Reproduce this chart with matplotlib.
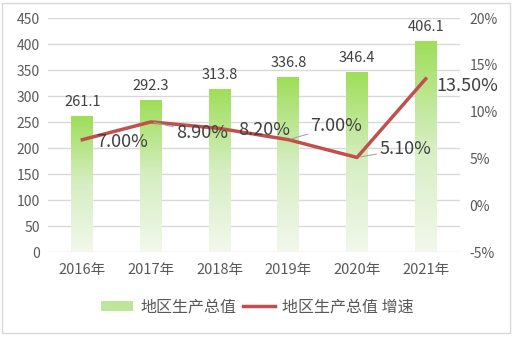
import numpy as np
import matplotlib
matplotlib.use("Agg")
import matplotlib.pyplot as plt
from matplotlib.colors import LinearSegmentedColormap
from matplotlib.patches import Rectangle, Patch
from matplotlib.lines import Line2D

plt.rcParams['font.family'] = ['Noto Sans CJK SC', 'DejaVu Sans']

years = ["2016年", "2017年", "2018年", "2019年", "2020年", "2021年"]
gdp = [261.1, 292.3, 313.8, 336.8, 346.4, 406.1]
growth = [7.00, 8.90, 8.20, 7.00, 5.10, 13.50]
left_ticks = [0, 50, 100, 150, 200, 250, 300, 350, 400, 450]
right_ticks = [-5, 0, 5, 10, 15, 20]

W, H = 515, 338
fig = plt.figure(figsize=(W / 100, H / 100), dpi=100)
ax = fig.add_axes([48 / W, 1 - 252 / H, (460 - 48) / W, (252 - 18) / H])
ax2 = ax.twinx()

# outer frame
fig.patches.append(Rectangle((2 / W, 5 / H), (510 - 2) / W, (335 - 5) / H,
                             transform=fig.transFigure, fill=False,
                             edgecolor="#d9d9d9", linewidth=1))

x = np.arange(len(years))
ax.set_ylim(0, 450)
ax.set_yticks(left_ticks)
ax.grid(axis="y", color="#d9d9d9", linewidth=1)
ax.set_axisbelow(True)
for s in list(ax.spines.values()) + list(ax2.spines.values()):
    s.set_visible(False)
ax.tick_params(length=0, labelsize=10, colors="#595959", pad=6)
ax.set_xticks(x)
ax.set_xticklabels(years)
ax.tick_params(axis="x", labelsize=10.5, pad=8)

# gradient-filled bars (bright green at each bar's top, fading downward)
cmap = LinearSegmentedColormap.from_list("g", ["#f2f8ec", "#d6eec2", "#9ede58"])
bars = ax.bar(x, gdp, width=0.32, color="none", zorder=2)
grad = np.linspace(0, 1, 256).reshape(-1, 1)
for b, v in zip(bars, gdp):
    x0 = b.get_x()
    im = ax.imshow(grad, cmap=cmap, origin="lower", aspect="auto",
                   extent=[x0, x0 + b.get_width(), 0, v], zorder=2)
    im.set_clip_path(b)
    ax.annotate(f"{v:.1f}", (b.get_x() + b.get_width() / 2, v),
                xytext=(0, 5), textcoords="offset points", ha="center",
                va="bottom", fontsize=10.5, color="#404040")
ax.set_xlim(-0.5, len(years) - 0.5)
ax.set_ylim(0, 450)

# growth line on secondary axis
ax2.set_ylim(-5, 20)
ax2.set_yticks(right_ticks)
ax2.set_yticklabels([f"{t}%" for t in right_ticks])
ax2.tick_params(length=0, labelsize=10, colors="#595959", pad=7)
ax2.plot(x, growth, color="#c0504d", linewidth=2.5, zorder=3)

# percentage labels: (dx, dy) offsets in points, leader line flag
offsets = [(10, -2, False), (18, -8, True), (13, -1, False),
           (16, 10, True), (16, 6, True), (8, -5, False)]
for xi, g, (dx, dy, lead) in zip(x, growth, offsets):
    kw = {}
    if lead:
        kw["arrowprops"] = dict(arrowstyle="-", color="#a6a6a6", linewidth=0.8,
                                shrinkA=0, shrinkB=2)
    ax2.annotate(f"{g:.2f}%", (xi, g), xytext=(dx, dy), textcoords="offset points",
                 ha="left", va="center", fontsize=13, color="#404040", **kw)

handles = [Patch(facecolor="#bde69a", edgecolor="none"),
           Line2D([0], [0], color="#c0504d", linewidth=2.5)]
fig.legend(handles, ["地区生产总值", "地区生产总值 增速"], loc="center",
           bbox_to_anchor=(0.5, 1 - 307 / H), ncol=2, frameon=False,
           fontsize=11.5, labelcolor="#595959", handlelength=2.0,
           handleheight=0.55, columnspacing=0.4, handletextpad=0.45)

fig.savefig("out.png", dpi=100)
